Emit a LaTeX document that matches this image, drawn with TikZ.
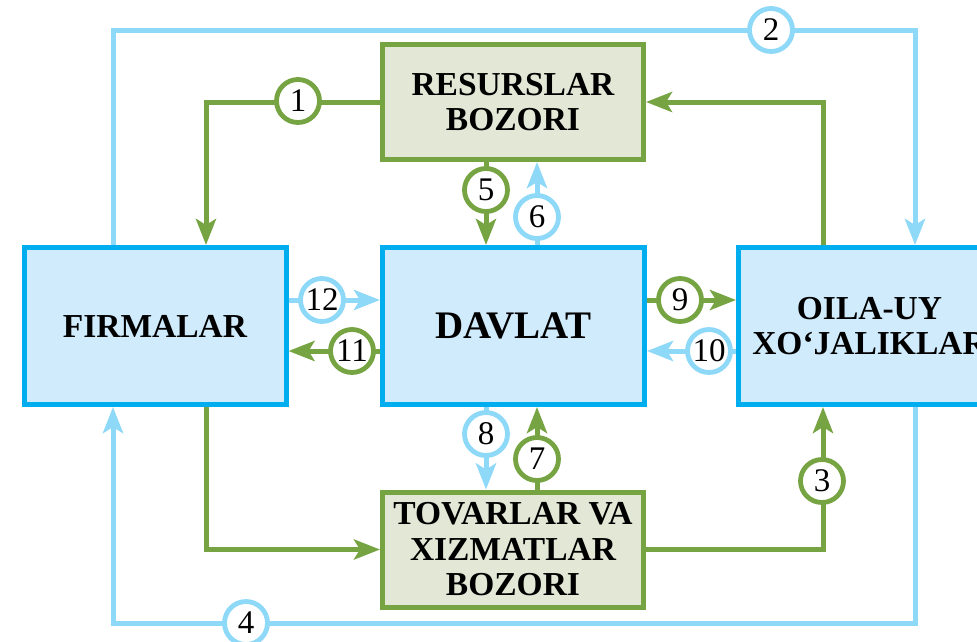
\documentclass[tikz,border=0pt]{standalone}
\usepackage{fontspec}
\setmainfont{Liberation Serif}
\usetikzlibrary{arrows.meta}
\definecolor{grn}{HTML}{77A442}
\definecolor{lblue}{HTML}{8ED8F8}
\definecolor{cyanb}{HTML}{00AEEF}
\definecolor{bfill}{HTML}{CFEBFC}
\definecolor{gfill}{HTML}{E2E7D6}
\tikzset{
  bluebox/.style={draw=cyanb, fill=bfill, line width=5pt, minimum width=262pt, minimum height=157pt, inner sep=0pt, align=center, font=\fontsize{33.5}{34.5}\selectfont\bfseries},
  greenbox/.style={draw=grn, fill=gfill, line width=5pt, minimum width=261pt, minimum height=115pt, inner sep=0pt, align=center, font=\fontsize{33.5}{35.5}\selectfont\bfseries},
  tipstyle/.style={-{Stealth[length=26pt,width=20pt,inset=6pt]}},
  gline/.style={draw=grn, line width=5pt, tipstyle},
  bline/.style={draw=lblue, line width=5pt, tipstyle},
  numc/.style={circle, fill=white, line width=4.8pt, minimum size=43pt, inner sep=0pt, font=\fontsize{33}{33}\selectfont},
  gnum/.style={numc, draw=grn},
  bnum/.style={numc, draw=lblue}
}
\begin{document}
\begin{tikzpicture}[x=1pt,y=-1pt]
\clip (0,0) rectangle (977,641);
\fill[white] (0,0) rectangle (977,641);
% boxes
\node[bluebox] (firm) at (155,326) {FIRMALAR};
\node[bluebox, font=\fontsize{39}{40}\selectfont\bfseries] (dav) at (513.5,326) {DAVLAT};
\node[bluebox] (oila) at (869.5,326) {OILA-UY\\XO‘JALIKLAR};
\node[greenbox] (res) at (513,102) {RESURSLAR\\BOZORI};
\node[greenbox] (tov) at (513,549.5) {TOVARLAR VA\\XIZMATLAR\\BOZORI};
% outer light-blue loops
\draw[bline] (firm.north -| 113,0) -- (113,30) -- (915,30) -- (oila.north -| 915,0);
\draw[bline] (oila.south -| 915,0) -- (915,623) -- (113,623) -- (firm.south -| 113,0);
% green market flows
\draw[gline] (res.west) -| (firm.north -| 206,0);
\draw[gline] (oila.north -| 823,0) |- (res.east);
\draw[gline] (firm.south -| 206,0) |- (tov.west);
\draw[gline] (tov.east) -| (oila.south -| 823,0);
% vertical flows with DAVLAT
\draw[gline] (res.south -| 486,0) -- (dav.north -| 486,0);
\draw[bline] (dav.north -| 537,0) -- (res.south -| 537,0);
\draw[bline] (dav.south -| 486,0) -- (tov.north -| 486,0);
\draw[gline] (tov.north -| 537,0) -- (dav.south -| 537,0);
% horizontal flows with DAVLAT
\draw[bline] (firm.east |- 0,300) -- (dav.west |- 0,300);
\draw[gline] (dav.west |- 0,351) -- (firm.east |- 0,351);
\draw[gline] (dav.east |- 0,300) -- (oila.west |- 0,300);
\draw[bline] (oila.west |- 0,351) -- (dav.east |- 0,351);
% number circles
\node[gnum] (n1) at (298,101) {1};
\node[bnum] (n2) at (771,30) {2};
\node[gnum] (n3) at (822,481) {3};
\node[bnum] (n4) at (246,623) {4};
\node[gnum] (n5) at (486,190) {5};
\node[bnum] (n6) at (537,217) {6};
\node[gnum] (n7) at (537,459) {7};
\node[bnum] (n8) at (486,434) {8};
\node[gnum] (n9) at (680,300) {9};
\node[bnum] (n10) at (709,351) {10};
\node[gnum] (n11) at (352,351) {11};
\node[bnum] (n12) at (322,300) {12};
\end{tikzpicture}
\end{document}
